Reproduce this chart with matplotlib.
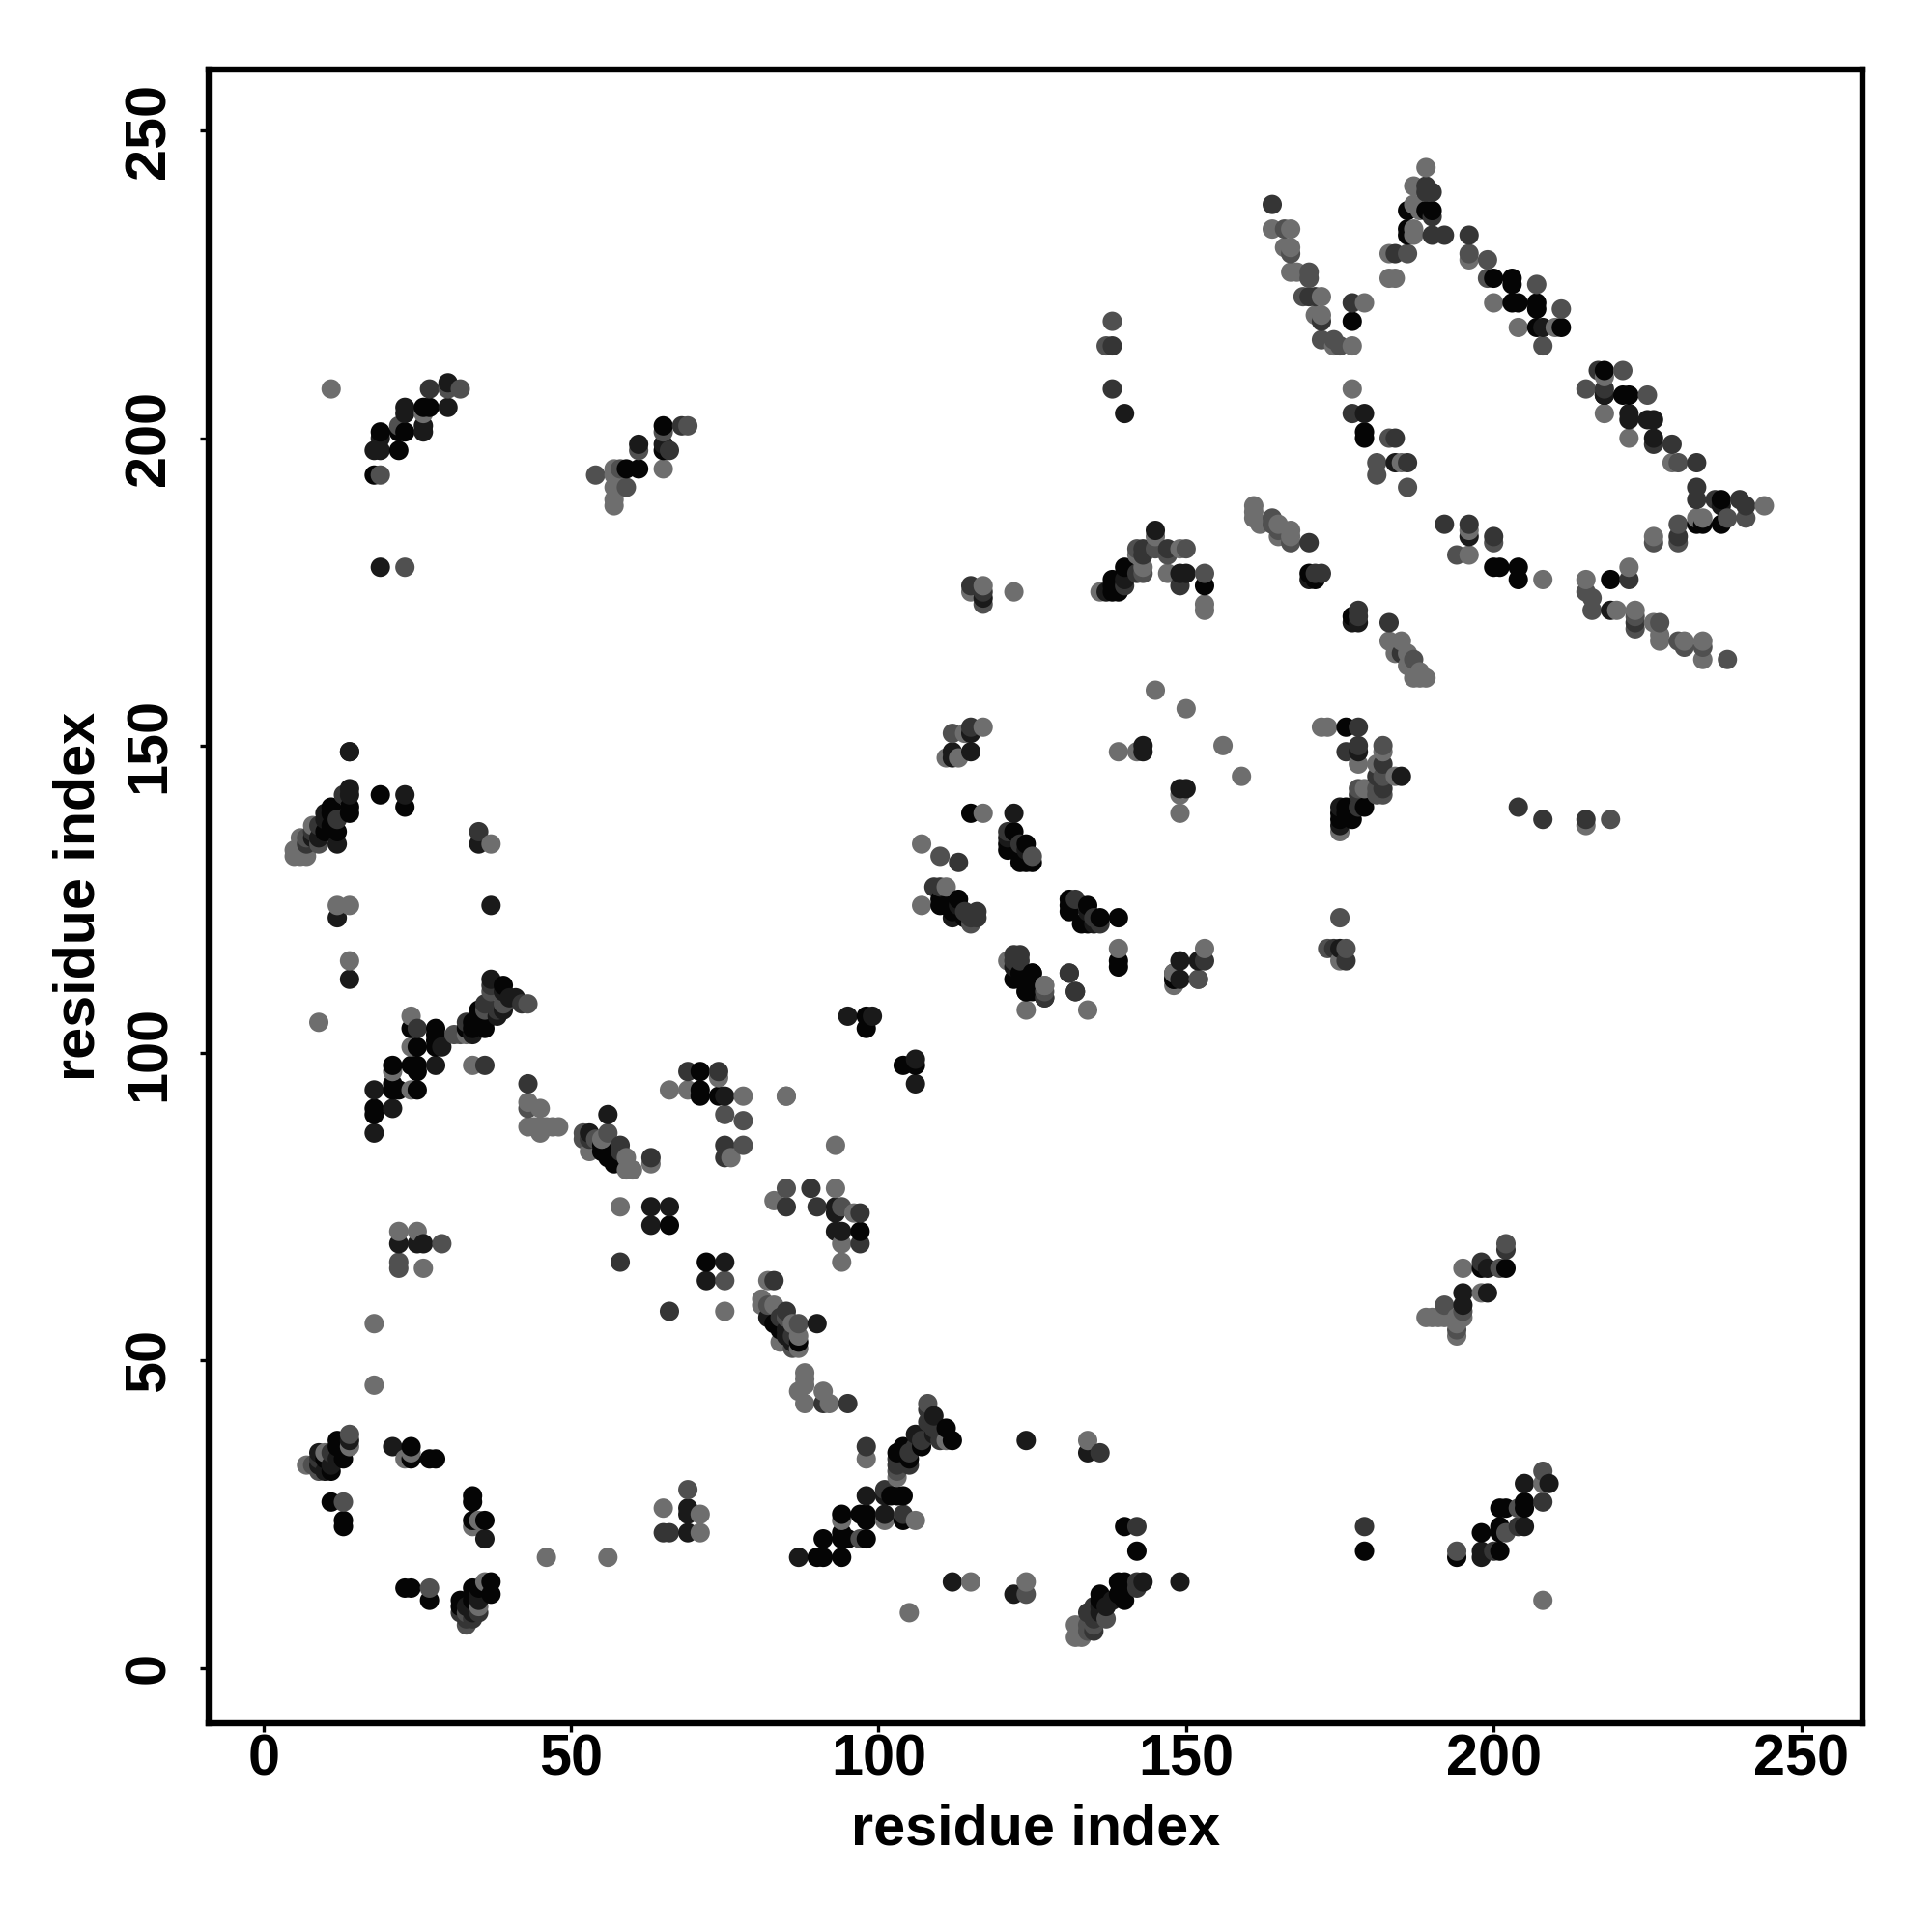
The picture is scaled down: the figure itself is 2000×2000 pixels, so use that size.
import numpy as np
import matplotlib
matplotlib.use("Agg")
import matplotlib.pyplot as plt

# contacts, (residue x, residue y), one list per grey level
shade1 = [(66,72),(72,66),(84,55),(83,56),(87,53),(97,71),(98,106),(98,104),(104,98),(106,98),(124,110),(125,113),(124,111),
    (148,112),(139,114),(12,37),(12,36),(13,34),(13,35),(10,34),(11,32),(24,36),(24,34),(27,34),(28,34),(11,27),(13,24),(13,23),
    (34,28),(34,27),(34,24),(36,24),(23,13),(24,13),(27,11),(37,14),(37,12),(34,13),(35,13),(34,11),(32,11),(32,10),
    (90,18),(91,18),(94,18),(91,21),(94,21),(94,22),(95,21),(98,21),(94,25),(97,25),(98,25),(98,24),(102,28),(103,28),(104,28),
    (104,24),(111,39),(112,37),(107,36),(104,36),(104,35),(105,34),(103,35),(140,23),(142,19),(140,14),(139,14),(140,13),(140,11),
    (139,12),(136,12),(136,11),(14,140),(14,139),(19,142),(23,140),(11,140),(11,139),(12,136),(11,137),(10,136),(11,136),
    (39,111),(35,107),(35,106),(36,105),(36,104),(34,105),(34,104),(33,104),(24,104),(28,104),(28,103),(28,102),(25,101),(28,101),
    (21,98),(24,98),(25,98),(25,97),(21,94),(21,95),(22,94),(25,94),(18,91),(18,90),(55,85),(55,84),(56,83),(57,82),(71,97),
    (71,94),(71,93),(74,93),(115,139),(122,136),(121,134),(121,133),(123,132),(124,134),(125,131),(123,131),(124,131),
    (110,125),(110,124),(111,124),(113,125),(112,123),(114,122),(131,125),(131,123),(131,124),(134,124),(136,122),(133,121),
    (134,121),(139,122),(139,115),(148,112),(122,112),(125,113),(123,113),(124,112),(124,110),(125,110),(176,153),(179,140),(176,140),
    (175,139),(176,139),(177,138),(175,138),(186,237),(189,237),(190,237),(186,234),(186,233),(200,226),(203,226),(203,225),
    (203,222),(204,222),(207,222),(207,221),(207,218),(211,218),(218,211),(218,207),(221,207),(222,207),(177,219),(179,201),(179,200),
    (237,190),(237,186),(233,186),(234,186),(200,179),(201,179),(204,179),(204,177),(219,177),(170,178),(171,177),(177,171),
    (22,198),(22,201),(23,201),(19,201),(26,205),(27,205),(18,194),(59,195),(61,195),(65,202),(65,198),
    (202,65),(198,65),(205,27),(205,26),(201,26),(202,26),(201,23),(201,22),(198,22),(194,18),(201,19),(179,19),
    (140,179),(138,177),(138,176),(138,175),(139,175),(153,176)]

shade2 = [(63,75),(66,75),(63,72),(72,63),(75,66),(22,69),(25,69),(26,69),(82,57),(86,53),(85,55),(85,54),(90,56),(14,37),(12,34),(9,35),(9,33),(10,32),(11,33),
    (21,36),(36,21),(69,26),(69,25),(69,22),(87,18),(35,12),(35,11),(33,10),(34,9),(93,75),(93,74),(93,71),(94,71),(95,106),(99,106),(106,99),
    (106,95),(127,109),(132,110),(149,112),(148,113),(98,28),(101,25),(101,28),(109,41),(109,38),(106,38),(124,37),(134,35),
    (112,14),(122,12),(149,14),(143,14),(138,11),(137,10),(136,10),(136,9),(14,149),(14,143),(14,142),(23,142),(10,139),(12,134),
    (10,138),(9,135),(8,135),(35,134),(12,122),(37,124),(14,112),(37,112),(39,110),(41,109),(40,109),(39,107),(38,106),(34,103),
    (29,101),(28,98),(18,94),(21,91),(18,87),(56,90),(53,87),(75,93),(112,149),(112,148),(115,152),(115,149),(122,139),(121,135),
    (124,133),(113,124),(112,122),(134,123),(135,121),(149,115),(152,115),(122,114),(149,143),(150,143),(143,150),(143,149),
    (175,140),(175,137),(178,149),(185,145),(175,117),(218,207),(222,204),(222,203),(225,203),(226,203),(226,200),(208,218),
    (179,204),(184,196),(237,189),(196,184),(219,172),(170,177),(177,170),(178,170),(18,198),(19,198),(23,205),(23,204),
    (30,209),(30,205),(26,202),(26,201),(19,200),(19,179),(14,149),(61,199),(65,199),(195,61),(195,59),(199,65),(199,61),(205,30),
    (209,30),(205,23),(198,19),(198,18),(145,185),(149,178),(150,178),(137,175),(140,177),(140,204),(117,174)]

shade3 = [(58,66),(66,58),(83,63),(85,58),(84,57),(86,54),(91,43),(95,43),(11,35),(9,34),(65,22),(66,22),(33,8),(34,8),(35,9),(32,9),(90,75),(97,74),(97,69),
    (85,75),(89,78),(127,109),(131,113),(132,110),(101,29),(104,25),(98,36),(108,42),(108,40),(109,39),(110,37),(107,37),(106,36),
    (103,34),(103,33),(105,35),(105,33),(136,35),(142,23),(142,14),(142,13),(135,10),(134,9),(135,8),(135,6),(13,142),(12,138),
    (9,137),(8,136),(7,134),(35,136),(37,111),(38,107),(42,108),(36,108),(33,105),(25,104),(36,98),(43,95),(53,86),(58,85),(58,84),
    (63,83),(69,97),(74,97),(75,85),(75,83),(115,153),(121,136),(123,134),(113,131),(109,127),(110,127),(114,123),(115,122),(116,123),
    (116,122),(132,125),(135,122),(136,121),(153,115),(122,116),(123,116),(122,115),(123,115),(131,113),(178,153),(176,149),
    (178,150),(182,147),(181,145),(182,143),(178,142),(178,140),(174,117),(176,115),(189,241),(190,240),(189,240),(190,236),(190,233),
    (192,233),(196,233),(184,230),(164,238),(170,223),(171,223),(172,219),(177,222),(177,204),(184,200),(186,196),(217,211),(218,208),
    (226,199),(229,199),(233,196),(233,192),(233,190),(236,190),(240,190),(241,189),(230,184),(170,183),(192,186),(196,186),(200,184),
    (222,177),(223,170),(171,178),(172,178),(178,172),(178,171),(183,170),(185,165),(27,208),(68,202),(66,198),(198,66),
    (202,68),(204,23),(200,19),(208,27),(179,23),(204,140),(208,138),(215,138),(138,215),(138,208),(143,182),(147,182),(143,181),
    (142,178),(140,176),(149,176),(115,176),(117,175)]

shade4 = [(22,66),(22,65),(29,69),(85,78),(82,59),(87,56),(86,52),(85,57),(75,63),(23,179),(19,194),(14,38),(8,33),(9,32),(13,27),(69,29),(27,13),(33,9),(33,7),
    (97,21),(94,75),(124,12),(127,110),(152,112),(108,43),(134,7),(135,7),(134,6),(137,8),(103,32),(9,134),(7,135),(37,110),(39,108),
    (43,108),(36,107),(31,103),(32,103),(43,91),(52,87),(52,86),(54,86),(56,87),(75,90),(78,89),(78,85),(112,152),(110,132),(125,132),
    (115,121),(152,112),(173,117),(176,117),(175,122),(182,150),(182,145),(181,143),(182,142),(181,142),(178,143),(196,230),(199,229),
    (186,230),(199,226),(207,225),(211,221),(208,215),(166,234),(167,230),(170,227),(170,226),(169,223),(172,216),(174,216),(175,215),
    (183,200),(181,196),(181,194),(186,192),(221,211),(215,208),(225,207),(230,196),(241,187),(238,187),(230,186),(230,183),(226,183),
    (164,187),(164,186),(165,185),(167,183),(200,183),(194,181),(215,175),(216,174),(216,172),(223,171),(223,169),(227,170),(230,167),
    (231,166),(234,166),(238,164),(187,164),(30,208),(32,208),(22,202),(54,194),(58,195),(59,192),(65,201),(69,202),(61,198),(202,69),
    (201,65),(195,58),(192,59),(194,55),(208,32),(204,26),(202,22),(194,19),(138,219),(137,215),(142,182),(145,182),(150,182),(147,181),
    (143,178),(153,178),(117,173),(219,138)]

shade5 = [(22,71),(25,71),(26,65),(18,56),(18,46),(58,75),(75,58),(82,63),(81,60),(81,59),(83,59),(84,53),(87,54),(87,52),(86,56),
    (14,36),(10,35),(7,33),(23,34),(24,35),(34,23),(35,24),(46,18),(56,18),(65,26),(71,25),(71,22),(36,14),(35,10),(96,74),(94,69),
    (94,66),(93,78),(83,76),(93,85),(85,93),(124,107),(134,107),(127,111),(148,111),(148,113),(88,48),(88,47),(88,46),(87,45),(88,43),
    (91,45),(92,43),(98,34),(103,31),(101,24),(94,24),(106,24),(111,37),(134,37),(115,14),(124,14),(105,9),(133,6),(132,7),(132,5),(133,5),
    (8,137),(6,135),(5,133),(6,133),(7,133),(5,132),(6,132),(7,132),(37,134),(12,124),(14,124),(14,115),(9,105),(33,103),(24,106),(24,101),
    (21,97),(24,94),(34,98),(43,92),(45,91),(43,88),(44,88),(45,88),(45,87),(46,88),(47,88),(48,88),(55,86),(53,84),(59,83),(59,81),(60,81),
    (63,82),(66,94),(69,94),(74,96),(78,93),(85,93),(76,83),(117,153),(114,152),(111,148),(113,148),(117,139),(107,134),(111,127),(107,124),
    (121,115),(127,111),(139,117),(153,117),(145,159),(150,156),(156,150),(159,145),(139,149),(142,149),(149,142),(149,139),(172,153),(173,153),
    (178,147),(182,149),(181,147),(184,145),(179,143),(175,136),(175,115),(189,244),(187,241),(187,238),(188,237),(187,234),(187,233),
    (196,229),(183,230),(183,226),(184,226),(164,234),(167,234),(166,231),(167,231),(167,227),(168,227),(172,223),(171,220),(172,220),
    (174,215),(177,215),(179,222),(177,208),(185,196),(200,222),(204,218),(210,218),(218,210),(218,204),(222,200),(229,196),(244,189),
    (233,187),(234,187),(226,184),(161,189),(161,188),(161,187),(162,186),(165,186),(165,184),(167,185),(167,184),(196,185),(196,181),
    (208,177),(222,179),(215,177),(220,172),(223,172),(226,170),(227,168),(227,167),(231,167),(234,167),(234,164),(183,167),(185,167),
    (184,165),(184,166),(186,165),(186,163),(187,163),(187,162),(188,162),(189,161),(188,161),(187,161),(11,208),(26,204),(57,195),(57,194),
    (57,192),(57,190),(57,189),(65,195),(195,65),(198,61),(189,57),(190,57),(191,57),(192,57),(194,57),(195,57),(194,56),(194,54),(208,30),
    (208,11),(145,184),(149,182),(142,181),(143,179),(147,178),(136,175),(153,173),(153,172),(115,175),(117,176),(122,175),(215,137)]

shade_levels = [shade1, shade2, shade3, shade4, shade5]
shade_colors = ["#050505", "#1a1a1a", "#353535", "#505050", "#6e6e6e"]
tick_values = [0, 50, 100, 150, 200, 250]

xs, ys, cs = [], [], []
for pts, col in zip(shade_levels, shade_colors):
    for p in pts:
        xs.append(p[0])
        ys.append(p[1])
        cs.append(col)
xs = np.array(xs)
ys = np.array(ys)
cs = np.array(cs)
# later residues sit on top of earlier ones
order = np.lexsort((ys, xs))

plt.rcParams["font.family"] = ["Liberation Sans", "DejaVu Sans"]
plt.rcParams["font.weight"] = "bold"

fig = plt.figure(figsize=(10, 10), dpi=200)
ax = fig.add_axes([0.10815, 0.108, 0.856, 0.8562])
ax.scatter(xs[order], ys[order], s=52, c=cs[order], linewidths=0, clip_on=True)

ax.set_xlim(-8.86, 260)
ax.set_ylim(-9, 260)
ax.set_xticks(tick_values)
ax.set_yticks(tick_values)
ax.tick_params(axis="both", length=3.2, width=1.2, labelsize=21.4)
ax.tick_params(axis="x", pad=0.5)
ax.tick_params(axis="y", pad=9, labelrotation=90)
for lab in ax.get_yticklabels():
    lab.set_va("center")

for sp in ax.spines.values():
    sp.set_linewidth(2.3)

ax.set_xlabel("residue index", fontsize=21.4, fontweight="bold", va="center")
ax.set_ylabel("residue index", fontsize=21.4, fontweight="bold", va="center")
ax.xaxis.set_label_coords(0.5, -0.0645)
ax.yaxis.set_label_coords(-0.0785, 0.5)

fig.savefig("out.png", dpi=200, facecolor="white")
